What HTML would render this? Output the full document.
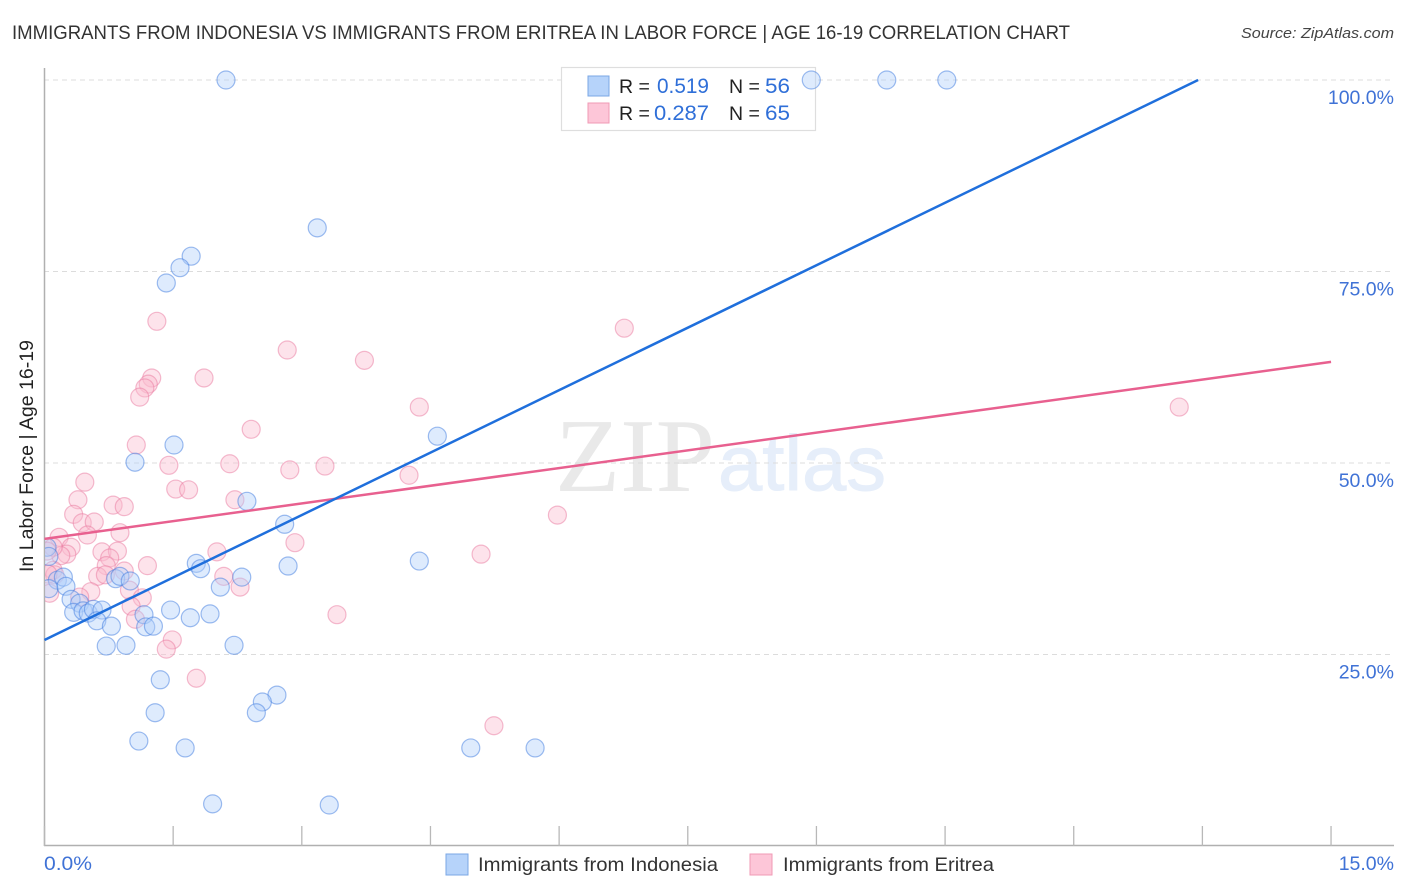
<!DOCTYPE html>
<html lang="en">
<head>
<meta charset="utf-8">
<title>Immigrants from Indonesia vs Immigrants from Eritrea in Labor Force | Age 16-19 Correlation Chart</title>
<style>
html,body{margin:0;padding:0;background:#fff;width:1406px;height:892px;overflow:hidden}
svg{display:block;font-family:"Liberation Sans",sans-serif}
</style>
</head>
<body>
<svg id="chart" width="1406" height="892" viewBox="0 0 1406 892" xmlns="http://www.w3.org/2000/svg">
  <defs>
    <clipPath id="plot-clip"><rect x="45" y="60" width="1350" height="786"/></clipPath>
  </defs>
  <text x="12" y="39" font-size="19.5" fill="#333" textLength="1058" lengthAdjust="spacingAndGlyphs">IMMIGRANTS FROM INDONESIA VS IMMIGRANTS FROM ERITREA IN LABOR FORCE | AGE 16-19 CORRELATION CHART</text>
  <text x="1241" y="38" font-size="15" font-style="italic" fill="#444" textLength="153" lengthAdjust="spacingAndGlyphs">Source: ZipAtlas.com</text>

  <g>
    <text x="555" y="491" font-family="'Liberation Serif',serif" font-size="105" fill="#e9e9e9" textLength="160" lengthAdjust="spacingAndGlyphs">ZIP</text>
    <text x="718" y="490" font-size="78" fill="#e6eefa" stroke="#e6eefa" stroke-width="1" textLength="168" lengthAdjust="spacingAndGlyphs">atlas</text>
  </g>

  <g id="grid"></g>

  <g>
    <line x1="44.5" y1="68" x2="44.5" y2="846" stroke="#b0b0b0" stroke-width="1.5"/>
    <line x1="44" y1="845.5" x2="1394" y2="845.5" stroke="#b0b0b0" stroke-width="1.5"/>
    <g id="xticks"></g>
  </g>

  <g id="ylabels"></g>
  <text x="44" y="870" font-size="19.5" fill="#3f72d6" textLength="48" lengthAdjust="spacingAndGlyphs">0.0%</text>
  <text x="1394" y="870" font-size="19.5" fill="#3f72d6" text-anchor="end">15.0%</text>
  <text transform="translate(33,572) rotate(-90)" font-size="19" fill="#222" textLength="232" lengthAdjust="spacingAndGlyphs">In Labor Force | Age 16-19</text>

  <g>
    <rect x="561.5" y="67.5" width="254" height="63" fill="#fff" stroke="#dedede" stroke-width="1.2"/>
    <rect x="588" y="76" width="21" height="20" fill="#b6d3fa" stroke="#7ba7e4" stroke-width="1"/>
    <rect x="588" y="103" width="21" height="20" fill="#fdc6d8" stroke="#f09ab5" stroke-width="1"/>
    <text x="619" y="93" font-size="19.5" fill="#222">R =</text>
    <text x="657" y="93" font-size="21" fill="#2f6fd8" textLength="52" lengthAdjust="spacingAndGlyphs">0.519</text>
    <text x="729" y="93" font-size="19.5" fill="#222">N =</text>
    <text x="765" y="93" font-size="21" fill="#2f6fd8" textLength="25" lengthAdjust="spacingAndGlyphs">56</text>
    <text x="619" y="120" font-size="19.5" fill="#222">R =</text>
    <text x="654" y="120" font-size="21" fill="#2f6fd8" textLength="55" lengthAdjust="spacingAndGlyphs">0.287</text>
    <text x="729" y="120" font-size="19.5" fill="#222">N =</text>
    <text x="765" y="120" font-size="21" fill="#2f6fd8" textLength="25" lengthAdjust="spacingAndGlyphs">65</text>
  </g>

  <g id="pink-points" clip-path="url(#plot-clip)"></g>
  <g id="blue-points" clip-path="url(#plot-clip)"></g>
  <g id="trends"></g>

  <g>
    <rect x="446" y="854" width="22" height="21" fill="#b6d3fa" stroke="#7ba7e4" stroke-width="1"/>
    <text x="478" y="871" font-size="19.5" fill="#333" textLength="240" lengthAdjust="spacingAndGlyphs">Immigrants from Indonesia</text>
    <rect x="750" y="854" width="22" height="21" fill="#fdc6d8" stroke="#f09ab5" stroke-width="1"/>
    <text x="783" y="871" font-size="19.5" fill="#333" textLength="211" lengthAdjust="spacingAndGlyphs">Immigrants from Eritrea</text>
  </g>
</svg>
<script>
const xTickValues = [0,1.5,3,4.5,6,7.5,9,10.5,12,13.5,15];
const yTickValues = [25,50,75,100];
const yTickLabels = ["25.0%","50.0%","75.0%","100.0%"];

const indonesiaX = [2.116,8.94,9.82,10.52,3.18,1.71,1.58,1.42,1.51,1.055,4.58,2.36,2.80,1.77,1.82,2.84,2.30,2.05,4.37,0.03,0.05,0.15,0.22,0.25,0.31,0.41,0.34,0.45,0.51,0.57,0.67,0.61,0.78,0.83,0.88,1.0,1.16,1.18,1.27,1.47,1.70,1.93,0.72,0.95,2.21,1.35,1.29,2.71,2.54,2.47,1.10,1.64,1.96,3.32,4.97,5.72,0.05];
const indonesiaY = [100,100,100,100,80.7,77.0,75.5,73.5,52.35,50.1,53.5,45.0,42.0,36.9,36.2,36.55,35.1,33.8,37.2,39.0,37.8,34.7,35.1,33.9,32.2,31.7,30.5,30.7,30.4,30.9,30.8,29.4,28.7,34.9,35.2,34.6,30.2,28.6,28.7,30.8,29.8,30.3,26.1,26.2,26.2,21.7,17.4,19.7,18.8,17.4,13.7,12.8,5.5,5.35,12.8,12.8,33.6];

const eritreaX = [0.47,0.39,0.34,0.44,0.58,0.50,0.17,0.31,0.26,0.19,0.10,0.67,0.85,0.76,0.72,0.62,0.71,0.93,1.20,0.88,0.80,0.93,1.53,1.68,2.22,2.01,2.09,2.28,2.92,3.41,0.54,0.41,0.99,1.14,1.01,1.06,1.49,1.42,1.77,0.10,0.06,0.12,1.31,1.25,1.21,1.17,1.11,1.07,1.45,1.86,2.16,2.86,3.27,2.83,3.73,2.41,4.37,4.25,5.98,5.09,5.24,6.76,13.23,0.04,0.03];
const eritreaY = [47.5,45.2,43.3,42.2,42.3,40.6,40.3,39.0,38.1,37.9,39.0,38.4,38.5,37.6,36.6,35.2,35.4,35.9,36.6,40.9,44.5,44.3,46.6,46.5,45.2,38.4,35.2,33.8,39.6,30.2,33.2,32.5,33.4,32.4,31.3,29.6,26.9,25.7,21.9,36.0,33.0,35.4,68.5,61.1,60.3,59.8,58.6,52.35,49.7,61.1,49.9,49.1,49.6,64.75,63.4,54.4,57.3,48.4,43.2,38.1,15.7,67.6,57.3,35.5,38.5];

const indonesiaTrendX = [0,13.45];
const indonesiaTrendY = [26.9,100];
const eritreaTrendX = [0,15];
const eritreaTrendY = [40.1,63.2];

const NS = "http://www.w3.org/2000/svg";
const xScale = v => 44.5 + v * 85.77;
const yScale = v => 846 - v * 7.66;
function make(tag, attrs, parent) {
  const el = document.createElementNS(NS, tag);
  for (const k in attrs) el.setAttribute(k, attrs[k]);
  parent.appendChild(el);
  return el;
}

const gridG = document.getElementById("grid");
const ylabelG = document.getElementById("ylabels");
yTickValues.forEach((v, i) => {
  const ln = make("line", {x1:44, x2:1394, y1:yScale(v), y2:yScale(v), stroke:"#dcdcdc", "stroke-width":1, "stroke-dasharray":"5 4"}, gridG);
  
  
  const t = make("text", {x:1394, y:yScale(v) + 24, "font-size":19.5, fill:"#3f72d6", "text-anchor":"end"}, ylabelG);
  
  
  t.textContent = yTickLabels[i];
});

const xtickG = document.getElementById("xticks");
xTickValues.forEach(v => {
  const ln = make("line", {x1:xScale(v), x2:xScale(v), y1:826, y2:846, stroke:"#b8b8b8", "stroke-width":1.3}, xtickG);
  
  
});

function drawPoints(groupId, xs, ys, fill, stroke) {
  const g = document.getElementById(groupId);
  xs.forEach((x, i) => {
    const c = make("circle", {cx:xScale(x), cy:yScale(ys[i]), r:9, fill:fill, "fill-opacity":0.42, stroke:stroke, "stroke-opacity":0.5, "stroke-width":1.2}, g);
    
    
  });
}
drawPoints("pink-points", eritreaX, eritreaY, "#fbbcd0", "#e9799f");
drawPoints("blue-points", indonesiaX, indonesiaY, "#b0d0fa", "#3f7be0");

const trendG = document.getElementById("trends");
const pinkLine = make("line", {x1:xScale(eritreaTrendX[0]), y1:yScale(eritreaTrendY[0]), x2:xScale(eritreaTrendX[1]), y2:yScale(eritreaTrendY[1]), stroke:"#e8608f", "stroke-width":2.5}, trendG);


const blueLine = make("line", {x1:xScale(indonesiaTrendX[0]), y1:yScale(indonesiaTrendY[0]), x2:xScale(indonesiaTrendX[1]), y2:yScale(indonesiaTrendY[1]), stroke:"#1f6fdc", "stroke-width":2.5}, trendG);


</script>
</body>
</html>
